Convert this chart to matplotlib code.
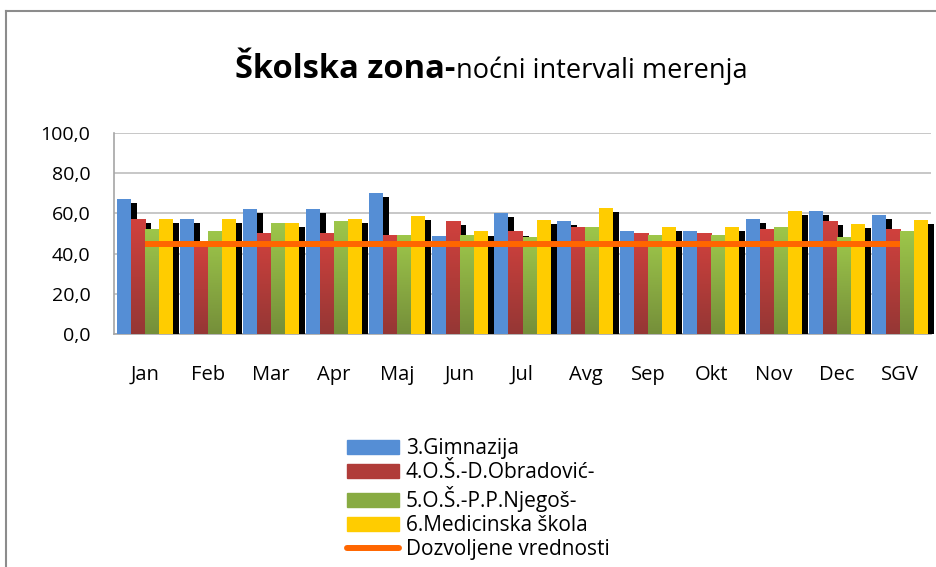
import matplotlib
matplotlib.use("Agg")
import matplotlib.pyplot as plt
import numpy as np
from matplotlib.lines import Line2D
from matplotlib.patches import Rectangle
from matplotlib.colors import LinearSegmentedColormap

plt.rcParams['font.family'] = ['Open Sans', 'DejaVu Sans']

months = ['Jan', 'Feb', 'Mar', 'Apr', 'Maj', 'Jun', 'Jul', 'Avg', 'Sep', 'Okt', 'Nov', 'Dec', 'SGV']
gimnazija = [67, 57, 62, 62, 70, 49, 60, 56, 51, 51, 57, 61, 59]
obradovic = [57, 44.5, 50, 50, 49, 56, 51, 53, 50, 50, 52, 56, 52]
njegos = [52, 51, 55, 56, 49, 49, 48, 53, 49, 49, 53, 48, 51]
medicinska = [57, 57, 55, 57, 58.5, 51, 56.5, 62.5, 53, 53, 61, 54.5, 56.5]
dozvoljene = [45] * 13

labels = ['3.Gimnazija', '4.O.Š.-D.Obradović-', '5.O.Š.-P.P.Njegoš-', '6.Medicinska škola']
series = [gimnazija, obradovic, njegos, medicinska]
# (top colour, bottom colour)
colors = [('#558ED5', '#558ED5'), ('#D0413D', '#953735'), ('#9DC64A', '#758F3A'), ('#FFCC00', '#FFCC00')]
line_color = '#FF6600'

fig = plt.figure(figsize=(9.37, 5.67), dpi=100)
ax = fig.add_axes([114 / 937, 1 - 334 / 567, (931 - 114) / 937, (334 - 133) / 567])

x = np.arange(len(months))
bw = 0.223
sh_dx = 6 / 62.8
sh_dy = 2.0

for i, (vals, (ctop, cbot)) in enumerate(zip(series, colors)):
    off = (i - 1.5) * bw
    vals = np.array(vals, dtype=float)
    # shadow
    ax.bar(x + off + sh_dx, vals - sh_dy, width=bw, color='black', zorder=2 + i * 2, clip_on=False)
    bars = ax.bar(x + off, vals, width=bw, color=ctop, zorder=3 + i * 2, clip_on=False)
    if ctop != cbot:
        cmap = LinearSegmentedColormap.from_list('g%d' % i, [cbot, ctop])
        grad = np.linspace(0, 1, 64).reshape(-1, 1)
        for b in bars:
            x0 = b.get_x()
            ax.imshow(grad, cmap=cmap, origin='lower', aspect='auto',
                      extent=[x0, x0 + b.get_width(), 0, b.get_height()],
                      zorder=3 + i * 2, clip_on=False)

ax.plot(x, dozvoljene, color=line_color, lw=4.3, zorder=20, solid_capstyle='butt')

ax.set_xlim(-0.5, len(months) - 0.5)
ax.set_ylim(0, 100)
ax.set_aspect('auto')
ax.set_yticks(np.arange(0, 101, 20))
ax.set_yticklabels([f"{v:.1f}".replace('.', ',') for v in np.arange(0, 101, 20)], fontsize=14)
ax.set_xticks(x)
ax.set_xticklabels(months, fontsize=14.5)
ax.tick_params(axis='both', length=0)
ax.tick_params(axis='y', pad=17)
ax.tick_params(axis='x', pad=22)
ax.grid(axis='y', color='#BEBEBE', lw=1.2, zorder=0)
ax.set_axisbelow(True)
for s in ['top', 'right']:
    ax.spines[s].set_visible(False)
for s in ['left', 'bottom']:
    ax.spines[s].set_color('#A6A6A6')
    ax.spines[s].set_linewidth(1.2)

# title
fig.text(455 / 937, 1 - 78 / 567, 'Školska zona-', fontsize=23.5, fontweight='bold', ha='right', va='baseline')
fig.text(456 / 937, 1 - 78 / 567, 'noćni intervali merenja', fontsize=19.5, ha='left', va='baseline')

# border
fig.add_artist(Line2D([6 / 937, 1], [1 - 11 / 567, 1 - 11 / 567], color='#8C8C8C', lw=1.5, transform=fig.transFigure))
fig.add_artist(Line2D([6 / 937, 6 / 937], [0, 1 - 11 / 567], color='#8C8C8C', lw=1.5, transform=fig.transFigure))

handles = [Rectangle((0, 0), 1, 1, color=c) for c in ['#558ED5', '#B03C39', '#88AB42', '#FFCC00']]
handles.append(Line2D([0], [0], color=line_color, lw=4.3, solid_capstyle='round'))
fig.legend(handles, labels + ['Dozvoljene vrednosti'], loc='upper left',
           bbox_to_anchor=(337 / 937, 1 - 428 / 567), frameon=False, fontsize=15,
           handlelength=2.5, handleheight=0.7, labelspacing=0.14, handletextpad=0.3,
           borderpad=0)

fig.savefig('out.png', dpi=100)
